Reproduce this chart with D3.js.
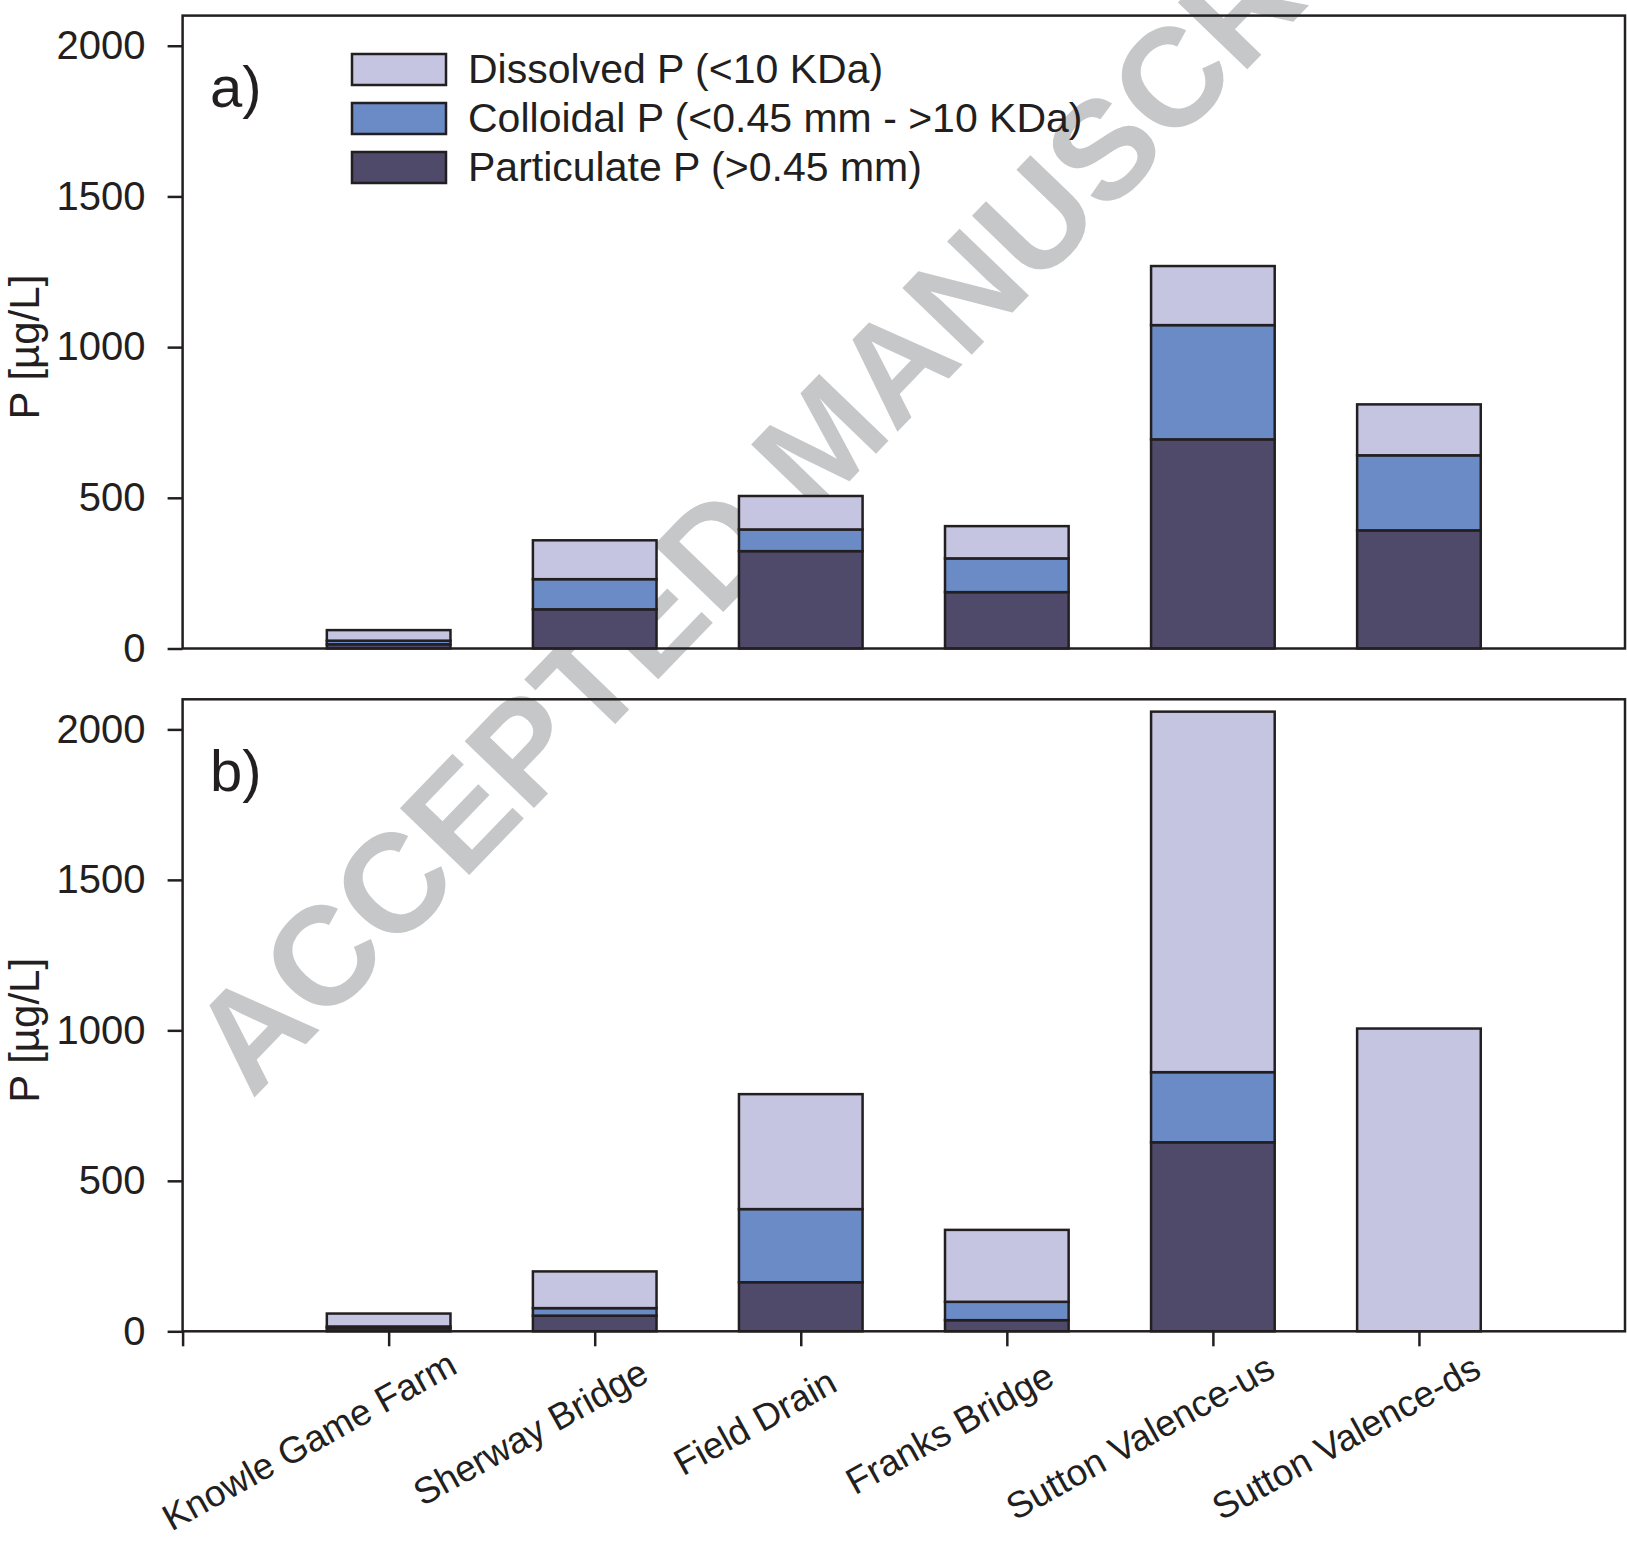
<!DOCTYPE html>
<html><head><meta charset="utf-8">
<script src="https://cdn.jsdelivr.net/npm/d3@7"></script>
<style>
body{margin:0;background:#fff}
svg{display:block}
text{font-family:"Liberation Sans",Arial,Helvetica,sans-serif;fill:#231f20}
</style>
</head><body>
<svg id="c" width="1627" height="1542"></svg>
<script>
// ---- data ----
const categories = ["Knowle Game Farm","Sherway Bridge","Field Drain","Franks Bridge","Sutton Valence-us","Sutton Valence-ds"];
const legendLabels = ["Dissolved P (<10 KDa)","Colloidal P (<0.45 mm - >10 KDa)","Particulate P (>0.45 mm)"];
const particulateA = [14,130,323,187,694,392];
const colloidalA   = [12,100,72,112,379,249];
const dissolvedA   = [35,129,111,107,196,169];
const particulateB = [10,52,163,37,628,0];
const colloidalB   = [6,25,243,61,233,0];
const dissolvedB   = [43,122,382,239,1198,1006];
const yTicks = [0,500,1000,1500,2000];
const panelLabels = ["a)","b)"];
const yTitle = "P [\u00b5g/L]";
const watermarkText = "ACCEPTED MANUSCRIPT";

// ---- styles ----
const INK = "#231f20";
const colors = {p:"#4f4a6a", c:"#6b8bc6", d:"#c6c5e1"};
const svg = d3.select("#c");

// watermark (behind everything)
svg.append("text")
  .attr("transform","translate(252,1100) rotate(-46)")
  .attr("font-size",140).attr("font-weight","bold")
  .style("fill","#c6c7c9")
  .text(watermarkText);

const left = 182.6, right = 1625;
const panels = [
  {top:15.6, bottom:648.5, p:particulateA, c:colloidalA, d:dissolvedA, label:panelLabels[0], xaxis:false},
  {top:699.3, bottom:1331.3, p:particulateB, c:colloidalB, d:dissolvedB, label:panelLabels[1], xaxis:true}
];
const x = d3.scaleLinear().domain([0,7]).range([left,right]);
const barW = 0.6;

panels.forEach((P,pi)=>{
  const y = d3.scaleLinear().domain([0,2100]).range([P.bottom,P.top]);
  const rows = categories.map((name,i)=>({name, i, p:P.p[i], c:P.c[i], d:P.d[i]}));
  const stacked = d3.stack().keys(["p","c","d"])(rows);
  const g = svg.append("g");
  stacked.forEach(s=>{
    g.selectAll(null).data(s.filter(v=>v[1]-v[0]>0)).join("rect")
      .attr("x", v=>x(v.data.i+1-barW/2))
      .attr("width", v=>x(barW)-x(0))
      .attr("y", v=>y(v[1]))
      .attr("height", v=>y(v[0])-y(v[1]))
      .attr("fill", colors[s.key])
      .attr("stroke", INK).attr("stroke-width",2.5);
  });
  // frame
  svg.append("rect").attr("x",left).attr("y",P.top)
    .attr("width",right-left).attr("height",P.bottom-P.top)
    .attr("fill","none").attr("stroke",INK).attr("stroke-width",2.5);
  // y axis
  const ya = svg.append("g").attr("transform",`translate(${left},0)`)
    .call(d3.axisLeft(y).tickValues(yTicks).tickFormat(d3.format("d"))
      .tickSize(15).tickPadding(22).tickSizeOuter(0));
  ya.select(".domain").remove();
  ya.selectAll("line").attr("stroke",INK).attr("stroke-width",2.5);
  ya.attr("font-size",40).attr("font-family",null);
  ya.selectAll("text").style("fill",INK);
  // y title
  svg.append("text").attr("transform",`translate(38.5,${y(1000)}) rotate(-90)`)
    .attr("text-anchor","middle").attr("font-size",42).text(yTitle);
  // panel label
  svg.append("text").attr("x",210).attr("y",P.top+91.4).attr("font-size",58).text(P.label);
  // x axis
  if(P.xaxis){
    const xa = svg.append("g").attr("transform",`translate(0,${P.bottom})`)
      .call(d3.axisBottom(x).tickValues([0,1,2,3,4,5,6])
        .tickFormat(v=>v===0?"":categories[v-1]).tickSize(15).tickSizeOuter(0));
    xa.select(".domain").remove();
    xa.selectAll("line").attr("stroke",INK).attr("stroke-width",2.5);
    xa.attr("font-size",37).attr("font-family",null);
    const ang = 29*Math.PI/180;
    xa.selectAll("text").style("fill",INK)
      .attr("x",0).attr("y",0).attr("dy",null).attr("text-anchor","end")
      .each(function(){
        const L = this.getComputedTextLength();
        const a = 0.2435*L;
        d3.select(this).attr("transform",
          `translate(${a*Math.cos(ang)},${79.7 - a*Math.sin(ang)}) rotate(-29)`);
      });
  }
});

// legend
const lg = svg.append("g");
const legendColors = [colors.d, colors.c, colors.p];
legendLabels.forEach((t,i)=>{
  const yy = 54 + i*49;
  lg.append("rect").attr("x",352).attr("y",yy).attr("width",94).attr("height",31)
    .attr("fill",legendColors[i]).attr("stroke",INK).attr("stroke-width",2.5);
  lg.append("text").attr("x",468).attr("y",yy+29).attr("font-size",41).text(t);
});
</script>
</body></html>
